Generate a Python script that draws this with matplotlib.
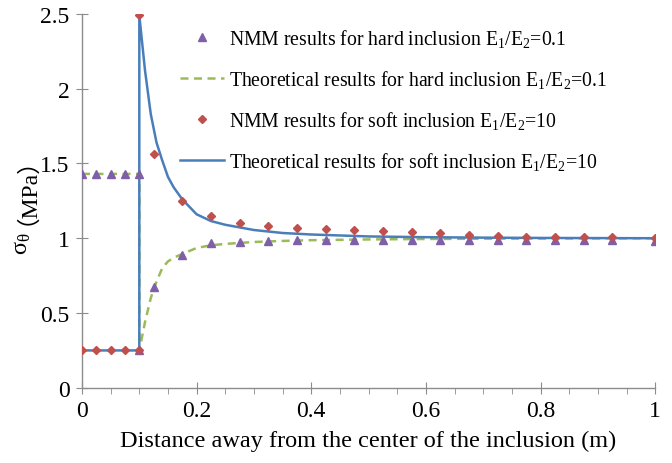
import matplotlib
matplotlib.use("Agg")
import matplotlib.pyplot as plt
from matplotlib.ticker import MultipleLocator

plt.rcParams['font.family'] = ['Liberation Serif', 'Noto Sans CJK SC']
plt.rcParams['mathtext.fontset'] = 'custom'
plt.rcParams['mathtext.rm'] = 'Liberation Serif'
plt.rcParams['mathtext.it'] = 'Liberation Serif:italic'

# NMM sample positions
nmm_x = [0, 0.025, 0.05, 0.075, 0.1, 0.1, 0.125, 0.175, 0.225, 0.275, 0.325, 0.375,
         0.425, 0.475, 0.525, 0.575, 0.625, 0.675, 0.725, 0.775, 0.825, 0.875, 0.925, 1.0]
nmm_hard = [1.43, 1.43, 1.43, 1.43, 1.43, 0.25, 0.671, 0.887, 0.967, 0.978, 0.982, 0.985,
            0.99, 0.99, 0.99, 0.99, 0.99, 0.99, 0.99, 0.99, 0.99, 0.99, 0.99, 0.98]
nmm_soft = [0.25, 0.25, 0.25, 0.25, 0.25, 2.49, 1.56, 1.247, 1.147, 1.105, 1.082, 1.067,
            1.06, 1.053, 1.048, 1.045, 1.033, 1.023, 1.016, 1.01, 1.009, 1.009, 1.007, 1.0]

# Theoretical curve positions
theo_x = [0, 0.1, 0.1, 0.11, 0.12, 0.13, 0.14, 0.15, 0.16, 0.175, 0.2, 0.225, 0.25,
          0.3, 0.35, 0.4, 0.5, 0.6, 0.7, 0.8, 0.9, 1.0]
theo_hard = [1.43, 1.43, 0.25, 0.44, 0.60, 0.71, 0.80, 0.845, 0.87, 0.895, 0.935, 0.953,
             0.962, 0.975, 0.982, 0.987, 0.992, 0.995, 0.997, 0.998, 0.999, 1.0]
theo_soft = [0.25, 0.25, 2.49, 2.12, 1.83, 1.64, 1.52, 1.41, 1.34, 1.26, 1.16, 1.115,
             1.09, 1.055, 1.035, 1.025, 1.012, 1.007, 1.004, 1.002, 1.001, 1.0]

x_ticks = [0, 0.2, 0.4, 0.6, 0.8, 1.0]
x_ticklabels = ['0', '0.2', '0.4', '0.6', '0.8', '1']
y_ticks = [0, 0.5, 1, 1.5, 2, 2.5]
y_ticklabels = ['0', '0.5', '1', '1.5', '2', '2.5']

labels = [r"NMM results for hard inclusion E$_1$/E$_2$=0.1",
          r"Theoretical results for hard inclusion E$_1$/E$_2$=0.1",
          r"NMM results for soft inclusion E$_1$/E$_2$=10",
          r"Theoretical results for soft inclusion E$_1$/E$_2$=10"]

purple = '#7F5FA8'
green = '#9BBB59'
red = '#C0504D'
blue = '#4A7EBB'

fig = plt.figure(figsize=(6.72, 4.64), dpi=100)
ax = fig.add_axes([0.122, 0.162, 0.853, 0.806])

h1, = ax.plot(nmm_x, nmm_hard, linestyle='none', marker='^', markersize=6,
              color=purple, zorder=4, label=labels[0])
h2, = ax.plot(theo_x, theo_hard, linestyle=(0, (3.2, 2.2)), linewidth=1.8,
              color=green, zorder=2, label=labels[1])
h3, = ax.plot(nmm_x, nmm_soft, linestyle='none', marker='D', markersize=4.5,
              color=red, zorder=5, label=labels[2])
h4, = ax.plot(theo_x, theo_soft, linestyle='-', linewidth=1.8,
              color=blue, zorder=3, label=labels[3])

ax.set_xlim(0, 1)
ax.set_ylim(0, 2.5)
ax.set_xticks(x_ticks)
ax.set_xticklabels(x_ticklabels)
ax.xaxis.set_minor_locator(MultipleLocator(0.05))
ax.set_yticks(y_ticks)
ax.set_yticklabels(y_ticklabels)

for s in ['top', 'right']:
    ax.spines[s].set_visible(False)
for s in ['left', 'bottom']:
    ax.spines[s].set_color('#8C8C8C')
    ax.spines[s].set_linewidth(1.0)
ax.tick_params(which='major', direction='inout', length=8, color='#8C8C8C',
               labelsize=17, pad=5)
ax.tick_params(which='minor', direction='out', length=4, color='#8C8C8C')
ax.tick_params(axis='y', which='minor', left=False)

ax.set_xlabel('Distance away from the center of the inclusion (m)', fontsize=17.5, labelpad=6)

# y label in two parts so the full-width parentheses use a CJK font
ax.text(-0.103, 0.418, 'σ$_{\\mathrm{θ}}$', rotation=90, fontsize=17.5,
        ha='center', va='top', transform=ax.transAxes)
ax.text(-0.117, 0.438, '（MPa）', rotation=90, fontsize=17,
        ha='center', va='bottom', transform=ax.transAxes,
        family=['Liberation Serif', 'Noto Sans CJK SC'])

leg = ax.legend(handles=[h1, h2, h3, h4], loc='upper left',
                bbox_to_anchor=(0.158, 0.985), frameon=False, fontsize=14.2,
                handlelength=2.2, handletextpad=0.25, labelspacing=0.95,
                borderaxespad=0)

fig.savefig('out.png', dpi=100)
